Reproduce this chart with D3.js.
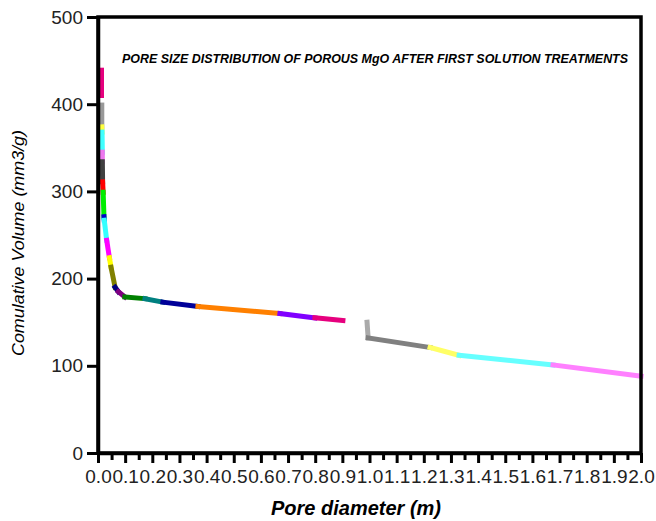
<!DOCTYPE html>
<html>
<head>
<meta charset="utf-8">
<script src="https://cdn.jsdelivr.net/npm/d3@7"></script>
<style>
  body { margin: 0; background: #fff; }
  svg { display: block; font-family: "Liberation Sans", Arial, sans-serif; }
</style>
</head>
<body>
<svg id="canvas" width="656" height="521"></svg>
<script>
// pore diameter (x) and cumulative volume (y); null marks a break in the curve
const poreDiameter = [
  0.013, 0.013, null,
  0.014, 0.014, 0.015, 0.016, 0.016, 0.017, 0.019, 0.022, 0.023, 0.032, 0.042,
  0.048, 0.063, 0.075, 0.099, 0.173, 0.239, 0.368, 0.670, 0.799, 0.902, null,
  0.991, 0.995, 1.223, 1.330, 1.676, 2.0
];
const cumVolume = [
  439, 410, null,
  399, 374, 368, 345, 334, 311, 299, 271, 267, 244, 224,
  213, 190, 185, 179, 177, 173, 168, 160, 155, 152, null,
  150, 132, 121, 112, 101, 88
];
// colour of the piece that starts at each point
const segmentColors = [
  '#e6007e', null, null,
  '#999999', '#ffff40', '#40ffff', '#ee77ee', '#404040', '#ff0000', '#00ee00',
  '#0000cc', '#33ffff', '#ff00ff', '#ffff00', '#808000', '#000080', '#800080',
  '#008000', '#008080', '#000099', '#ff8000', '#8000ff', '#e6007e', null, null,
  '#aaaaaa', '#808080', '#ffff66', '#66ffff', '#ff80ff', null
];
const xTicks = [0.0, 0.1, 0.2, 0.3, 0.4, 0.5, 0.6, 0.7, 0.8, 0.9, 1.0,
  1.1, 1.2, 1.3, 1.4, 1.5, 1.6, 1.7, 1.8, 1.9, 2.0];
const yTicks = [0, 100, 200, 300, 400, 500];
const chartTitle = 'PORE SIZE DISTRIBUTION OF POROUS MgO AFTER FIRST SOLUTION TREATMENTS';

const svg = d3.select('#canvas');
const x = d3.scaleLinear().domain([0, 2]).range([98, 641]);
const y = d3.scaleLinear().domain([0, 500]).range([453, 17]);

// curve pieces
const pieces = [];
for (let i = 0; i < poreDiameter.length - 1; i++) {
  if (poreDiameter[i] == null || poreDiameter[i + 1] == null) continue;
  pieces.push({
    x1: poreDiameter[i], y1: cumVolume[i],
    x2: poreDiameter[i + 1], y2: cumVolume[i + 1],
    color: segmentColors[i]
  });
}
svg.append('g').selectAll('line')
  .data(pieces)
  .enter().append('line')
  .attr('x1', d => x(d.x1)).attr('y1', d => y(d.y1))
  .attr('x2', d => x(d.x2)).attr('y2', d => y(d.y2))
  .attr('stroke', d => d.color)
  .attr('stroke-width', 5)
  .attr('stroke-linecap', 'square');

// frame (top and right)
svg.append('rect')
  .attr('x', x(0)).attr('y', y(500))
  .attr('width', x(2) - x(0)).attr('height', y(0) - y(500))
  .attr('fill', 'none').attr('stroke', '#000').attr('stroke-width', 3.5);

// y axis
const yAxis = svg.append('g')
  .attr('transform', `translate(${x(0)},0)`)
  .call(d3.axisLeft(y).tickValues(yTicks).tickSize(11).tickSizeOuter(0).tickPadding(4));
yAxis.selectAll('text').attr('font-size', 19).attr('font-family', null).attr('fill', '#222');

// x axis, minor ticks first
const minorTicks = xTicks.slice(0, -1).map(t => t + 0.05);
svg.append('g')
  .attr('transform', `translate(0,${y(0)})`)
  .call(d3.axisBottom(x).tickValues(minorTicks).tickSize(7).tickFormat(''))
  .call(g => g.select('.domain').remove());
const xAxis = svg.append('g')
  .attr('transform', `translate(0,${y(0)})`)
  .call(d3.axisBottom(x).tickValues(xTicks).tickSize(10).tickSizeOuter(0).tickPadding(7)
    .tickFormat(d3.format('.1f')));
xAxis.selectAll('text').attr('font-size', 19).attr('font-family', null).attr('fill', '#222');

svg.selectAll('.domain').attr('stroke-width', 3.5);
svg.selectAll('.tick line').attr('stroke-width', 3);

// titles
svg.append('text')
  .attr('x', 122).attr('y', 63)
  .attr('font-size', 12.4).attr('font-weight', 'bold').attr('font-style', 'italic')
  .attr('textLength', 506).attr('lengthAdjust', 'spacingAndGlyphs')
  .text(chartTitle);

svg.append('text')
  .attr('x', 356).attr('y', 515)
  .attr('text-anchor', 'middle')
  .attr('font-size', 20).attr('font-weight', 'bold').attr('font-style', 'italic')
  .text('Pore diameter (m)');

svg.append('text')
  .attr('transform', 'translate(24,243) rotate(-90)')
  .attr('text-anchor', 'middle')
  .attr('font-size', 16).attr('font-style', 'italic')
  .attr('textLength', 226).attr('lengthAdjust', 'spacingAndGlyphs')
  .text('Comulative Volume (mm3/g)');
</script>
</body>
</html>
